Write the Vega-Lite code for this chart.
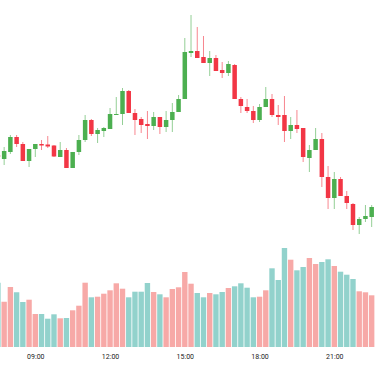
{
  "$schema": "https://vega.github.io/schema/vega-lite/v6.json",
  "width": 375,
  "height": 347,
  "autosize": "none",
  "padding": {"left": 0, "right": 0, "top": 0, "bottom": 19},
  "background": "white",
  "config": {"view": {"stroke": null}, "axis": {"grid": false}},
  "data": {"values": [
    {"t":"2024-01-15T07:30:00","o":169.0,"h":169.4,"l":168.2,"c":168.6,"v":6430,"d":"up"},
    {"t":"2024-01-15T07:45:00","o":168.2,"h":170.6,"l":167.0,"c":169.8,"v":4530,"d":"down"},
    {"t":"2024-01-15T08:00:00","o":169.6,"h":173.0,"l":169.2,"c":172.6,"v":6000,"d":"down"},
    {"t":"2024-01-15T08:15:00","o":172.6,"h":173.0,"l":170.6,"c":171.2,"v":5470,"d":"up"},
    {"t":"2024-01-15T08:30:00","o":171.2,"h":171.6,"l":167.8,"c":167.8,"v":4500,"d":"up"},
    {"t":"2024-01-15T08:45:00","o":167.8,"h":170.2,"l":166.6,"c":170.2,"v":4730,"d":"down"},
    {"t":"2024-01-15T09:00:00","o":170.2,"h":171.2,"l":168.6,"c":171.2,"v":3300,"d":"down"},
    {"t":"2024-01-15T09:15:00","o":171.2,"h":172.0,"l":170.0,"c":170.9,"v":3300,"d":"up"},
    {"t":"2024-01-15T09:30:00","o":171.1,"h":172.8,"l":170.4,"c":170.7,"v":2830,"d":"up"},
    {"t":"2024-01-15T09:45:00","o":170.9,"h":171.0,"l":168.6,"c":168.7,"v":3270,"d":"up"},
    {"t":"2024-01-15T10:00:00","o":168.6,"h":171.6,"l":168.6,"c":170.0,"v":2870,"d":"down"},
    {"t":"2024-01-15T10:15:00","o":170.0,"h":170.4,"l":166.4,"c":166.4,"v":2900,"d":"up"},
    {"t":"2024-01-15T10:30:00","o":166.4,"h":169.6,"l":166.4,"c":169.6,"v":3670,"d":"down"},
    {"t":"2024-01-15T10:45:00","o":169.6,"h":173.0,"l":169.0,"c":172.0,"v":4130,"d":"down"},
    {"t":"2024-01-15T11:00:00","o":172.0,"h":177.0,"l":171.6,"c":176.0,"v":6430,"d":"down"},
    {"t":"2024-01-15T11:15:00","o":176.0,"h":176.2,"l":172.8,"c":173.2,"v":4970,"d":"up"},
    {"t":"2024-01-15T11:30:00","o":173.2,"h":174.4,"l":171.4,"c":174.0,"v":5030,"d":"down"},
    {"t":"2024-01-15T11:45:00","o":173.8,"h":174.6,"l":172.6,"c":174.4,"v":5330,"d":"down"},
    {"t":"2024-01-15T12:00:00","o":174.2,"h":178.4,"l":174.2,"c":177.2,"v":5670,"d":"down"},
    {"t":"2024-01-15T12:15:00","o":177.0,"h":180.6,"l":177.0,"c":177.2,"v":6370,"d":"down"},
    {"t":"2024-01-15T12:30:00","o":177.2,"h":182.4,"l":175.0,"c":181.8,"v":5830,"d":"down"},
    {"t":"2024-01-15T12:45:00","o":181.8,"h":182.0,"l":177.4,"c":177.4,"v":4970,"d":"up"},
    {"t":"2024-01-15T13:00:00","o":177.4,"h":178.2,"l":173.0,"c":176.0,"v":5530,"d":"up"},
    {"t":"2024-01-15T13:15:00","o":176.2,"h":176.6,"l":173.4,"c":175.0,"v":5530,"d":"up"},
    {"t":"2024-01-15T13:30:00","o":175.2,"h":177.8,"l":172.2,"c":174.8,"v":6400,"d":"up"},
    {"t":"2024-01-15T13:45:00","o":174.8,"h":177.6,"l":174.0,"c":176.6,"v":5500,"d":"down"},
    {"t":"2024-01-15T14:00:00","o":176.6,"h":176.6,"l":173.2,"c":174.6,"v":5270,"d":"up"},
    {"t":"2024-01-15T14:15:00","o":174.6,"h":177.8,"l":173.6,"c":176.0,"v":4970,"d":"down"},
    {"t":"2024-01-15T14:30:00","o":176.0,"h":179.4,"l":173.6,"c":177.6,"v":5800,"d":"down"},
    {"t":"2024-01-15T14:45:00","o":177.6,"h":181.0,"l":177.6,"c":180.2,"v":5970,"d":"down"},
    {"t":"2024-01-15T15:00:00","o":180.2,"h":192.4,"l":180.2,"c":189.6,"v":7500,"d":"down"},
    {"t":"2024-01-15T15:15:00","o":189.4,"h":197.0,"l":188.6,"c":189.8,"v":6330,"d":"down"},
    {"t":"2024-01-15T15:30:00","o":189.8,"h":194.6,"l":188.4,"c":188.4,"v":5400,"d":"up"},
    {"t":"2024-01-15T15:45:00","o":188.6,"h":192.8,"l":187.4,"c":187.4,"v":4970,"d":"up"},
    {"t":"2024-01-15T16:00:00","o":187.4,"h":189.8,"l":184.8,"c":188.4,"v":5400,"d":"down"},
    {"t":"2024-01-15T16:15:00","o":188.4,"h":189.0,"l":185.8,"c":185.8,"v":5270,"d":"up"},
    {"t":"2024-01-15T16:30:00","o":186.0,"h":187.6,"l":184.4,"c":185.4,"v":5500,"d":"up"},
    {"t":"2024-01-15T16:45:00","o":185.4,"h":187.8,"l":184.8,"c":187.2,"v":5900,"d":"down"},
    {"t":"2024-01-15T17:00:00","o":187.0,"h":187.2,"l":180.2,"c":180.2,"v":6070,"d":"up"},
    {"t":"2024-01-15T17:15:00","o":180.2,"h":180.6,"l":177.4,"c":178.8,"v":6370,"d":"up"},
    {"t":"2024-01-15T17:30:00","o":178.6,"h":180.2,"l":177.4,"c":177.8,"v":5930,"d":"up"},
    {"t":"2024-01-15T17:45:00","o":177.8,"h":178.8,"l":175.4,"c":176.0,"v":4970,"d":"up"},
    {"t":"2024-01-15T18:00:00","o":176.0,"h":179.2,"l":175.6,"c":178.6,"v":5030,"d":"down"},
    {"t":"2024-01-15T18:15:00","o":178.6,"h":182.6,"l":178.6,"c":180.2,"v":5670,"d":"down"},
    {"t":"2024-01-15T18:30:00","o":180.2,"h":181.2,"l":176.6,"c":177.0,"v":7870,"d":"up"},
    {"t":"2024-01-15T18:45:00","o":177.0,"h":179.0,"l":175.0,"c":176.6,"v":6700,"d":"up"},
    {"t":"2024-01-15T19:00:00","o":177.0,"h":180.8,"l":171.6,"c":173.8,"v":9900,"d":"up"},
    {"t":"2024-01-15T19:15:00","o":173.8,"h":176.6,"l":172.2,"c":175.0,"v":8730,"d":"down"},
    {"t":"2024-01-15T19:30:00","o":175.0,"h":178.0,"l":173.4,"c":174.2,"v":7670,"d":"up"},
    {"t":"2024-01-15T19:45:00","o":174.4,"h":174.4,"l":167.6,"c":168.6,"v":8000,"d":"up"},
    {"t":"2024-01-15T20:00:00","o":168.4,"h":171.0,"l":165.6,"c":170.0,"v":8900,"d":"down"},
    {"t":"2024-01-15T20:15:00","o":170.0,"h":174.4,"l":170.0,"c":172.2,"v":8300,"d":"down"},
    {"t":"2024-01-15T20:30:00","o":172.2,"h":173.4,"l":162.6,"c":164.6,"v":8500,"d":"up"},
    {"t":"2024-01-15T20:45:00","o":164.6,"h":166.8,"l":158.2,"c":160.4,"v":8770,"d":"up"},
    {"t":"2024-01-15T21:00:00","o":160.4,"h":165.6,"l":158.2,"c":164.2,"v":8100,"d":"down"},
    {"t":"2024-01-15T21:15:00","o":164.2,"h":164.6,"l":160.8,"c":160.8,"v":7530,"d":"up"},
    {"t":"2024-01-15T21:30:00","o":160.8,"h":161.8,"l":158.2,"c":159.4,"v":7230,"d":"up"},
    {"t":"2024-01-15T21:45:00","o":159.2,"h":159.4,"l":154.0,"c":155.0,"v":6800,"d":"up"},
    {"t":"2024-01-15T22:00:00","o":155.0,"h":156.6,"l":153.2,"c":156.2,"v":5570,"d":"down"},
    {"t":"2024-01-15T22:15:00","o":156.2,"h":159.0,"l":155.6,"c":156.8,"v":5470,"d":"down"},
    {"t":"2024-01-15T22:30:00","o":156.6,"h":159.0,"l":154.6,"c":158.6,"v":5170,"d":"down"}
  ]},
  "encoding": {
    "x": {
      "field": "t", "type": "temporal", "title": null,
      "scale": {"domain": {"expr": "[datetime(2024,0,15,7,35), datetime(2024,0,15,22,38)]"}, "nice": false, "padding": 0},
      "axis": {
        "format": "%H:%M",
        "labelExpr": "hours(datum.value) % 3 == 0 ? timeFormat(datum.value, '%H:%M') : ''",
        "domain": false, "ticks": false, "labelPadding": 5,
        "labelFont": "Roboto", "labelFontSize": 7, "labelColor": "#222"
      }
    }
  },
  "layer": [
    {
      "mark": {"type": "bar", "size": 5.4, "clip": true},
      "encoding": {
        "y": {"field": "v", "type": "quantitative", "scale": {"domain": [0, 34700]}, "axis": null},
        "color": {"field": "d", "type": "nominal", "scale": {"domain": ["up", "down"], "range": ["#92D2CC", "#F7A9A7"]}, "legend": null}
      }
    },
    {
      "mark": {"type": "rule", "strokeWidth": 1, "opacity": 0.6, "clip": true},
      "encoding": {
        "y": {"field": "l", "type": "quantitative", "scale": {"domain": [130.6, 200]}, "axis": null},
        "y2": {"field": "h"},
        "color": {"condition": {"test": "datum.c >= datum.o", "value": "#4CAF50"}, "value": "#F23645"}
      }
    },
    {
      "mark": {"type": "bar", "size": 4.5, "clip": true},
      "encoding": {
        "y": {"field": "o", "type": "quantitative", "scale": {"domain": [130.6, 200]}, "axis": null},
        "y2": {"field": "c"},
        "color": {"condition": {"test": "datum.c >= datum.o", "value": "#4CAF50"}, "value": "#F23645"}
      }
    }
  ],
  "resolve": {"scale": {"y": "independent"}}
}
